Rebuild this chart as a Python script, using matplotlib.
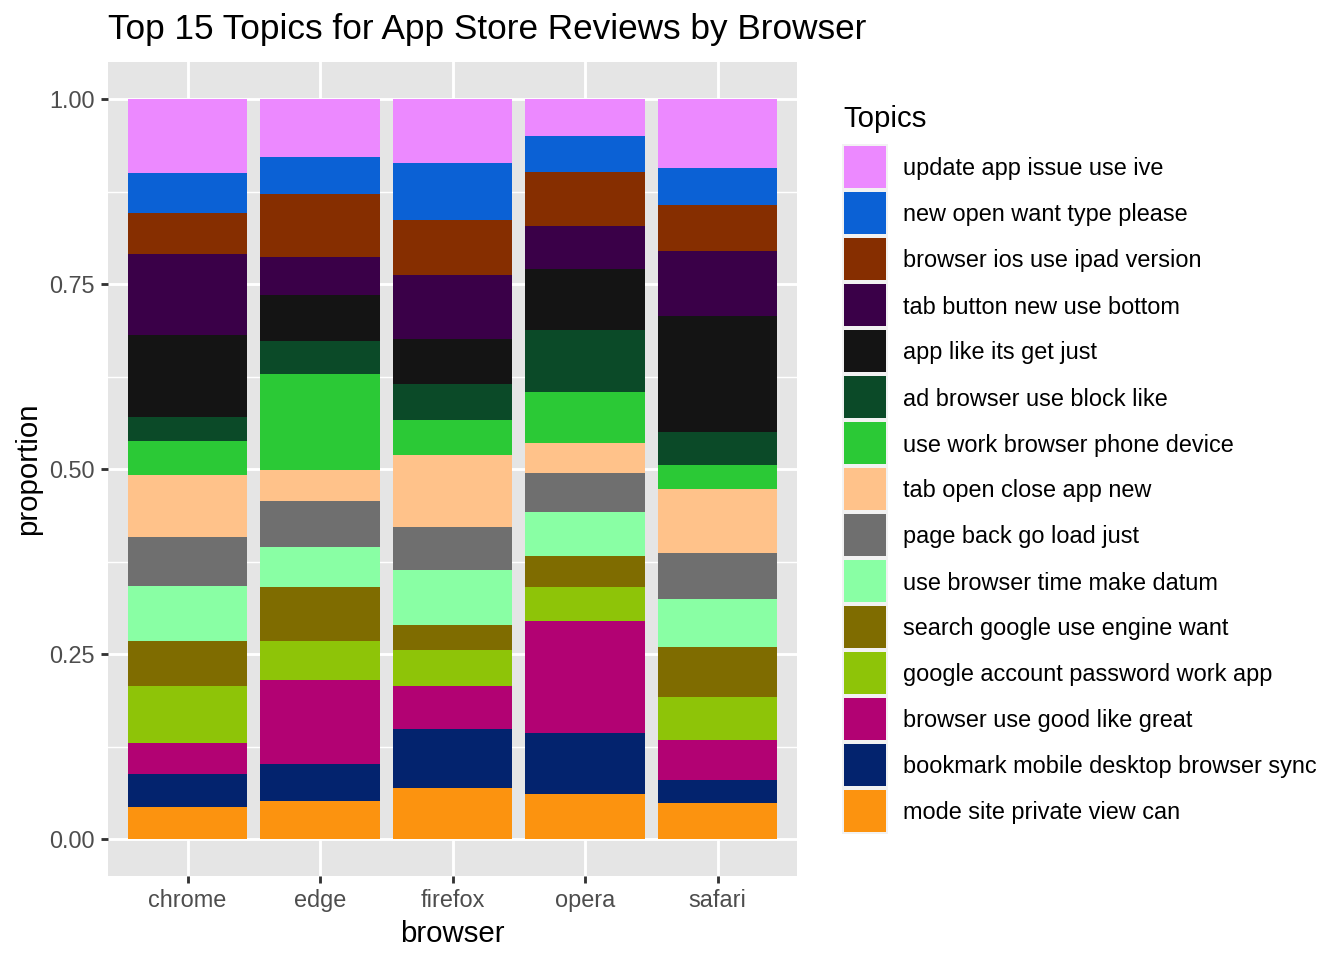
import matplotlib
matplotlib.use("Agg")
import matplotlib.pyplot as plt
from matplotlib.patches import Rectangle

plt.rcParams['font.family'] = ['Liberation Sans', 'DejaVu Sans']

browsers = ["chrome", "edge", "firefox", "opera", "safari"]

# legend order = stacking order from the top of each bar downwards
topics = [
    "update app issue use ive",
    "new open want type please",
    "browser ios use ipad version",
    "tab button new use bottom",
    "app like its get just",
    "ad browser use block like",
    "use work browser phone device",
    "tab open close app new",
    "page back go load just",
    "use browser time make datum",
    "search google use engine want",
    "google account password work app",
    "browser use good like great",
    "bookmark mobile desktop browser sync",
    "mode site private view can",
]

colors = [
    "#EC89FF", "#0B61D5", "#862E00", "#3A0048", "#141414",
    "#0B4A28", "#2BC936", "#FFC28A", "#6F6F6F", "#89FFA4",
    "#7F6C00", "#8EC408", "#B20273", "#03236E", "#FC930F",
]

# proportions per browser, in the same order as `topics`
chrome = [0.100, 0.054, 0.055, 0.110, 0.111, 0.032, 0.046, 0.084, 0.066, 0.074, 0.061, 0.077, 0.042, 0.045, 0.043]
edge = [0.078, 0.050, 0.086, 0.051, 0.062, 0.045, 0.129, 0.042, 0.062, 0.054, 0.073, 0.053, 0.114, 0.050, 0.051]
firefox = [0.086, 0.077, 0.075, 0.086, 0.061, 0.049, 0.047, 0.097, 0.058, 0.075, 0.034, 0.048, 0.058, 0.080, 0.069]
opera = [0.050, 0.048, 0.074, 0.058, 0.082, 0.084, 0.069, 0.040, 0.053, 0.060, 0.041, 0.046, 0.152, 0.082, 0.061]
safari = [0.093, 0.050, 0.062, 0.088, 0.157, 0.045, 0.032, 0.087, 0.062, 0.065, 0.067, 0.058, 0.054, 0.031, 0.049]

values = [chrome, edge, firefox, opera, safari]

W, H = 1344, 960
fig = plt.figure(figsize=(7, 5), dpi=192)

def fx(px):
    return px / W

def fy(py):
    return 1 - py / H

ax = fig.add_axes([fx(108), fy(876), fx(797) - fx(108), fy(62) - fy(876)])
ax.patch.set_facecolor("#E5E5E5")

x = list(range(len(browsers)))
bottoms = [0.0] * len(browsers)
for t in reversed(range(len(topics))):
    h = [values[b][t] for b in range(len(browsers))]
    ax.bar(x, h, width=0.9, bottom=bottoms, color=colors[t], linewidth=0, zorder=3)
    bottoms = [bottoms[b] + h[b] for b in range(len(browsers))]

ax.set_xlim(-0.6, len(browsers) - 0.4)
ax.set_ylim(-0.05, 1.05)
ax.set_xticks(x)
ax.set_xticklabels(browsers)
ax.set_yticks([0, 0.25, 0.5, 0.75, 1.0])
ax.set_yticklabels(["0.00", "0.25", "0.50", "0.75", "1.00"])
ax.set_yticks([0.125, 0.375, 0.625, 0.875], minor=True)

ax.grid(True, which="major", color="white", linewidth=1.07, zorder=1)
ax.grid(True, which="minor", axis="y", color="white", linewidth=0.53, zorder=1)
ax.set_axisbelow(True)
for s in ax.spines.values():
    s.set_visible(False)
ax.tick_params(axis="both", which="major", length=2.75, width=1.07, color="#333333",
               labelsize=8.8, labelcolor="#4D4D4D", pad=2.2)
ax.tick_params(axis="both", which="minor", length=0)

ax.set_xlabel("browser", fontsize=11, color="black", labelpad=2.75)
ax.set_ylabel("proportion", fontsize=11, color="black", labelpad=2.75)

fig.text(fx(108), fy(30), "Top 15 Topics for App Store Reviews by Browser",
         fontsize=13.2, color="black", ha="left", va="center")

# legend
fig.text(fx(843), fy(119), "Topics", fontsize=11, color="black", ha="left", va="center")
fig.add_artist(Rectangle((fx(842), fy(834)), fx(888) - fx(842), fy(144) - fy(834),
                         transform=fig.transFigure, facecolor="#F2F2F2", edgecolor="none"))
for i, (name, col) in enumerate(zip(topics, colors)):
    top = 146 + 46 * i
    fig.add_artist(Rectangle((fx(844), fy(top + 42)), fx(886) - fx(844), fy(top) - fy(top + 42),
                             transform=fig.transFigure, facecolor=col, edgecolor="none"))
    fig.text(fx(903), fy(top + 23), name, fontsize=8.8, color="black", ha="left", va="center")

fig.savefig("out.png", dpi=192, facecolor="white")
